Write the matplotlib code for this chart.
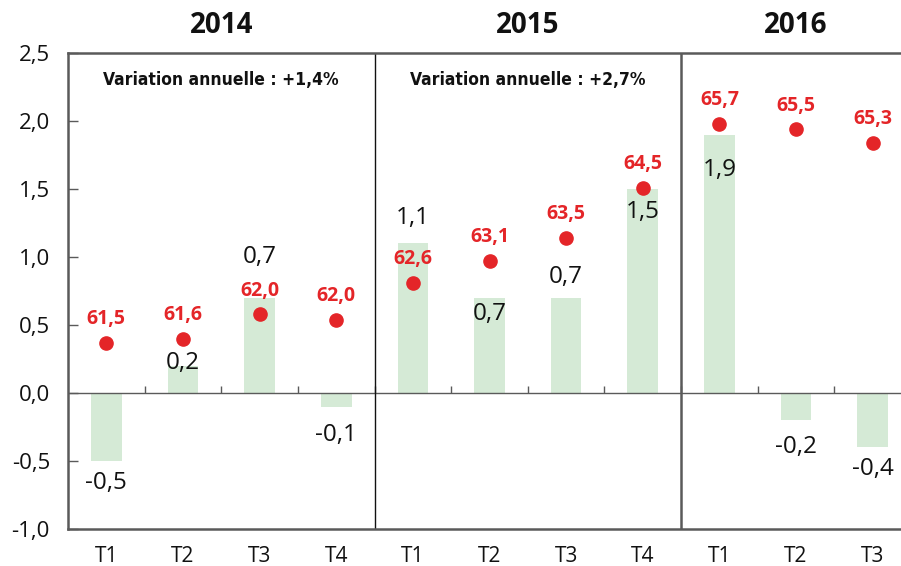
import matplotlib.pyplot as plt

# quarterly change (%) and the level index shown as red dots
quarters = ["T1", "T2", "T3", "T4", "T1", "T2", "T3", "T4", "T1", "T2", "T3"]
years = ["2014", "2015", "2016"]
quarters_per_year = [4, 4, 3]
variation = [-0.5, 0.2, 0.7, -0.1, 1.1, 0.7, 0.7, 1.5, 1.9, -0.2, -0.4]
level_labels = ["61,5", "61,6", "62,0", "62,0", "62,6", "63,1", "63,5", "64,5", "65,7", "65,5", "65,3"]
level_dots = [0.37, 0.40, 0.58, 0.54, 0.81, 0.97, 1.14, 1.51, 1.98, 1.94, 1.84]
annual_notes = ["Variation annuelle : +1,4%", "Variation annuelle : +2,7%", ""]

# where each bar value label sits (data units)
value_label_y = [-0.66, 0.22, 1.00, -0.31, 1.29, 0.58, 0.85, 1.33, 1.64, -0.40, -0.56]

GREEN = "#d5ead6"
RED = "#e42528"
GRAY = "#5a5a5a"
FONT = ["Open Sans", "DejaVu Sans"]

plt.rcParams["font.family"] = FONT

fig = plt.figure(figsize=(9.01, 5.66), dpi=100)
ax = fig.add_axes([68 / 901, 37 / 566, (911 - 68) / 901, (529 - 53) / 566])

x = list(range(len(variation)))
ax.bar(x, variation, width=0.40, color=GREEN, zorder=1)
ax.plot(x, level_dots, "o", color=RED, markersize=9.5, zorder=3, linestyle="none")

for xi, v, ly in zip(x, variation, value_label_y):
    ax.text(xi, ly, f"{v:.1f}".replace(".", ","), ha="center", va="center",
            fontsize=17.5, color="#111111", zorder=4)

for xi, d, lab in zip(x, level_dots, level_labels):
    ax.annotate(lab, (xi, d), xytext=(0, 17), textcoords="offset points",
                ha="center", va="center", fontsize=14, fontweight="bold",
                color=RED, zorder=4)

ax.set_xlim(-0.5, len(variation) - 0.5)
ax.set_ylim(-1.0, 2.5)

# zero line and the small ticks between quarters
ax.axhline(0, color=GRAY, lw=1.0, zorder=2)
for b in range(1, len(variation)):
    ax.vlines(b - 0.5, 0, 0.055, color=GRAY, lw=1.0, zorder=2)

# year separators, year titles and annual notes
start = 0
for i, (yr, n, note) in enumerate(zip(years, quarters_per_year, annual_notes)):
    center = start + (n - 1) / 2
    ax.text(center, 2.705, yr, ha="center", va="center", fontsize=20,
            fontweight="bold", color="#111111", clip_on=False)
    if note:
        ax.text(center, 2.30, note, ha="center", va="center", fontsize=12.5,
                fontweight="bold", family="DejaVu Sans", fontstretch="condensed",
                color="#111111")
    if i > 0:
        ax.axvline(start - 0.5, color="#111111" if i == 1 else GRAY,
                   lw=1.0 if i == 1 else 1.8, zorder=2)
    start += n

ax.set_yticks([-1.0, -0.5, 0.0, 0.5, 1.0, 1.5, 2.0, 2.5])
ax.set_yticklabels([f"{t:.1f}".replace(".", ",") for t in ax.get_yticks()])
ax.set_xticks(x)
ax.set_xticklabels(quarters)
ax.tick_params(axis="y", direction="in", length=7, width=1, color=GRAY,
               labelsize=16, pad=13, labelcolor="#111111")
ax.tick_params(axis="x", length=0, labelsize=15, pad=12, labelcolor="#111111")

for side in ["left", "top", "bottom"]:
    ax.spines[side].set_color(GRAY)
    ax.spines[side].set_linewidth(1.8)
ax.spines["right"].set_visible(False)

fig.savefig("out.png", dpi=100)
